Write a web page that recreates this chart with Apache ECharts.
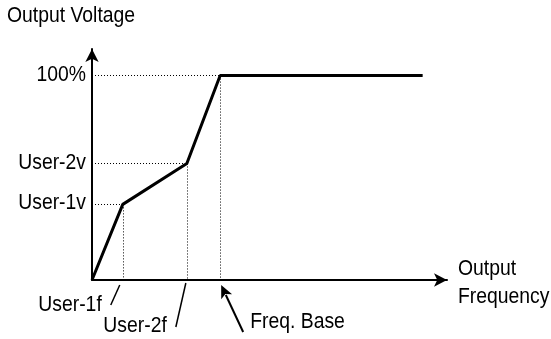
<!DOCTYPE html>
<html>
<head>
<meta charset="utf-8">
<script src="https://cdn.jsdelivr.net/npm/echarts@6/dist/echarts.min.js"></script>
<style>html,body{margin:0;padding:0;background:#fff}#c{width:551px;height:339px}</style>
</head>
<body>
<div id="c"></div>
<script>
// Data (relative units)
var freqPoints = [0, 24, 74, 100, 258];
var voltPoints = [0, 37, 57, 100, 100];
var yTickValues = [37, 57, 100];
var yTickLabels = ['User-1v', 'User-2v', '100%'];
var xMarkValues = [24, 74, 100];
var xMarkLabels = ['User-1f', 'User-2f', 'Freq. Base'];
var yAxisName = 'Output Voltage';
var xAxisNameLines = ['Output', 'Frequency'];
var xMax = 277, yMax = 113;

var FONT = "'Liberation Sans', Arial, sans-serif";
var FS = 22, SX = 0.88;
var chart = echarts.init(document.getElementById('c'), null, {renderer: 'canvas'});

var lineData = freqPoints.map(function (f, i) { return [f, voltPoints[i]]; });
var guideLines = [];
for (var i = 1; i <= 3; i++) {
  var p = lineData[i];
  guideLines.push([{coord: [0, p[1]]}, {coord: [p[0], p[1]]}]);
  guideLines.push([{coord: [p[0], p[1]]}, {coord: [p[0], 0]}]);
}

chart.setOption({
  animation: false,
  grid: {left: 92, top: 49, right: 104, bottom: 59},
  xAxis: {
    type: 'value', min: 0, max: xMax,
    splitLine: {show: false}, axisTick: {show: false}, axisLabel: {show: false},
    axisLine: {lineStyle: {color: '#000', width: 2}, symbol: ['none', 'arrow'], symbolSize: [10, 13]}
  },
  yAxis: {
    type: 'value', min: 0, max: yMax,
    splitLine: {show: false}, axisTick: {show: false}, axisLabel: {show: false},
    axisLine: {lineStyle: {color: '#000', width: 2}, symbol: ['none', 'arrow'], symbolSize: [10, 13]}
  },
  series: [{
    type: 'line', data: lineData, showSymbol: false, symbol: 'none',
    lineStyle: {color: '#000', width: 3}, z: 5,
    markLine: {
      silent: true, symbol: ['none', 'none'], label: {show: false},
      lineStyle: {color: '#000', width: 1, type: [1, 2]},
      data: guideLines
    }
  }]
});

var g = [];
function px(x, y) { return chart.convertToPixel({xAxisIndex: 0, yAxisIndex: 0}, [x, y]); }
function txt(s, x, y, align) {
  return {type: 'text', x: x, y: y, scaleX: SX,
    style: {text: s, font: FS + 'px ' + FONT, fill: '#000', textAlign: align, textVerticalAlign: 'middle'}};
}
var o = px(0, 0);
var top = px(0, yMax), right = px(xMax, 0);
// axis names
g.push(txt(yAxisName, 7, 16, 'left'));
g.push(txt(xAxisNameLines[0], right[0] + 11, o[1] - 11, 'left'));
g.push(txt(xAxisNameLines[1], right[0] + 11, o[1] + 17, 'left'));
// y labels
yTickValues.forEach(function (v, k) {
  var q = px(0, v);
  g.push(txt(yTickLabels[k], q[0] - 6, q[1] - 1, 'right'));
});
var p1 = px(xMarkValues[0], 0), p2 = px(xMarkValues[1], 0), p3 = px(xMarkValues[2], 0);
var ls = {stroke: '#000', lineWidth: 1.5};
// User-1f
g.push({type: 'line', shape: {x1: p1[0] - 3, y1: p1[1] + 5, x2: p1[0] - 12, y2: p1[1] + 25}, style: ls});
g.push(txt(xMarkLabels[0], p1[0] - 21, p1[1] + 25, 'right'));
// User-2f
g.push({type: 'line', shape: {x1: p2[0] - 1, y1: p2[1] + 3, x2: p2[0] - 11, y2: p2[1] + 47}, style: ls});
g.push(txt(xMarkLabels[1], p2[0] - 20, p2[1] + 46, 'right'));
// Freq. Base arrow
var tip = [p3[0] + 1, p3[1] + 5], tail = [p3[0] + 23, p3[1] + 52];
var dx = tip[0] - tail[0], dy = tip[1] - tail[1], L = Math.sqrt(dx * dx + dy * dy);
var ux = dx / L, uy = dy / L, nx = -uy, ny = ux;
var hl = 13, hw = 6;
var base = [tip[0] - ux * hl, tip[1] - uy * hl];
g.push({type: 'line', shape: {x1: tail[0], y1: tail[1], x2: base[0] + ux * 2, y2: base[1] + uy * 2}, style: {stroke: '#000', lineWidth: 2}});
g.push({type: 'polygon', shape: {points: [tip, [base[0] + nx * hw, base[1] + ny * hw], [base[0] + ux * 3, base[1] + uy * 3], [base[0] - nx * hw, base[1] - ny * hw]]}, style: {fill: '#000'}});
g.push(txt(xMarkLabels[2], p3[0] + 30, p3[1] + 42, 'left'));
chart.setOption({graphic: g});
</script>
</body>
</html>
